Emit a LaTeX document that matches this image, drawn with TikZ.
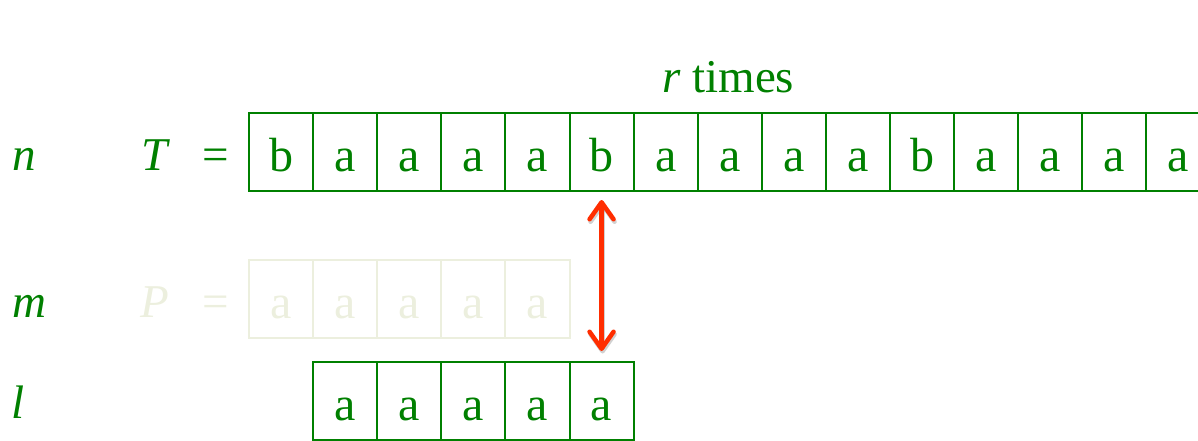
\documentclass[tikz,border=0pt]{standalone}
\usepackage{fontspec}
\setmainfont{Liberation Serif}
\usetikzlibrary{arrows.meta}
\definecolor{kgreen}{RGB}{0,128,0}
\definecolor{kfade}{RGB}{236,239,222}
\definecolor{kred}{RGB}{255,45,0}
\tikzset{mybarb/.tip={Straight Barb[length=17pt,width=24pt,line cap=round,line join=round]}}
\begin{document}
\begin{tikzpicture}[x=1pt,y=-1pt,
  cellbox/.style={draw, line width=2pt, minimum width=64.1pt, minimum height=78pt,
    inner sep=0pt, text height=38pt, text depth=0pt, anchor=north west,
    font=\fontsize{48}{52}\selectfont},
  greencell/.style={cellbox, draw=kgreen, text=kgreen},
  fadecell/.style={cellbox, draw=kfade, text=kfade},
  lbl/.style={anchor=base west, inner sep=0pt, font=\fontsize{47}{52}\selectfont},
  dblarrow/.style={line width=4.5pt, {mybarb}-{mybarb}},
]
\useasboundingbox (0,0) rectangle (1198,440);
\clip (0,0) rectangle (1198,440);
% T row
\foreach \c [count=\i from 0] in {b,a,a,a,a,b,a,a,a,a,b,a,a,a,a}
  \node[greencell] (T\i) at ({248+64.1*\i},112) {\c};
% P row (faded)
\foreach \i in {0,...,4}
  \node[fadecell] (P\i) at ({248+64.1*\i},259) {a};
% l row
\foreach \i in {0,...,4}
  \node[greencell] (L\i) at ({312.1+64.1*\i},361) {a};
% labels
\node[lbl, text=kgreen] (ln) at (12,170) {\textit{n}};
\node[lbl, text=kgreen] (lT) at (141,170) {\textit{T}};
\node[lbl, text=kgreen] (eqT) at (202,170) {=};
\node[lbl, text=kgreen] (lm) at (12,317) {\textit{m}};
\node[lbl, text=kfade] (lP) at (140,317) {\textit{P}};
\node[lbl, text=kfade] (eqP) at (202,317) {=};
\node[lbl, text=kgreen] (ll) at (11,418) {\textit{l}};
\node[lbl, text=kgreen] (rt) at (662,92) {\textit{r} times};
% arrow with soft shadow
\coordinate (atop) at ([yshift=-8pt]T5.south);
\coordinate (abot) at ([yshift=10pt]L4.north -| T5.south);
\draw[dblarrow, draw=black, opacity=0.18, transform canvas={xshift=1pt,yshift=-2.5pt}]
  (atop) -- (abot);
\draw[dblarrow, draw=kred] (atop) -- (abot);
\end{tikzpicture}
\end{document}
